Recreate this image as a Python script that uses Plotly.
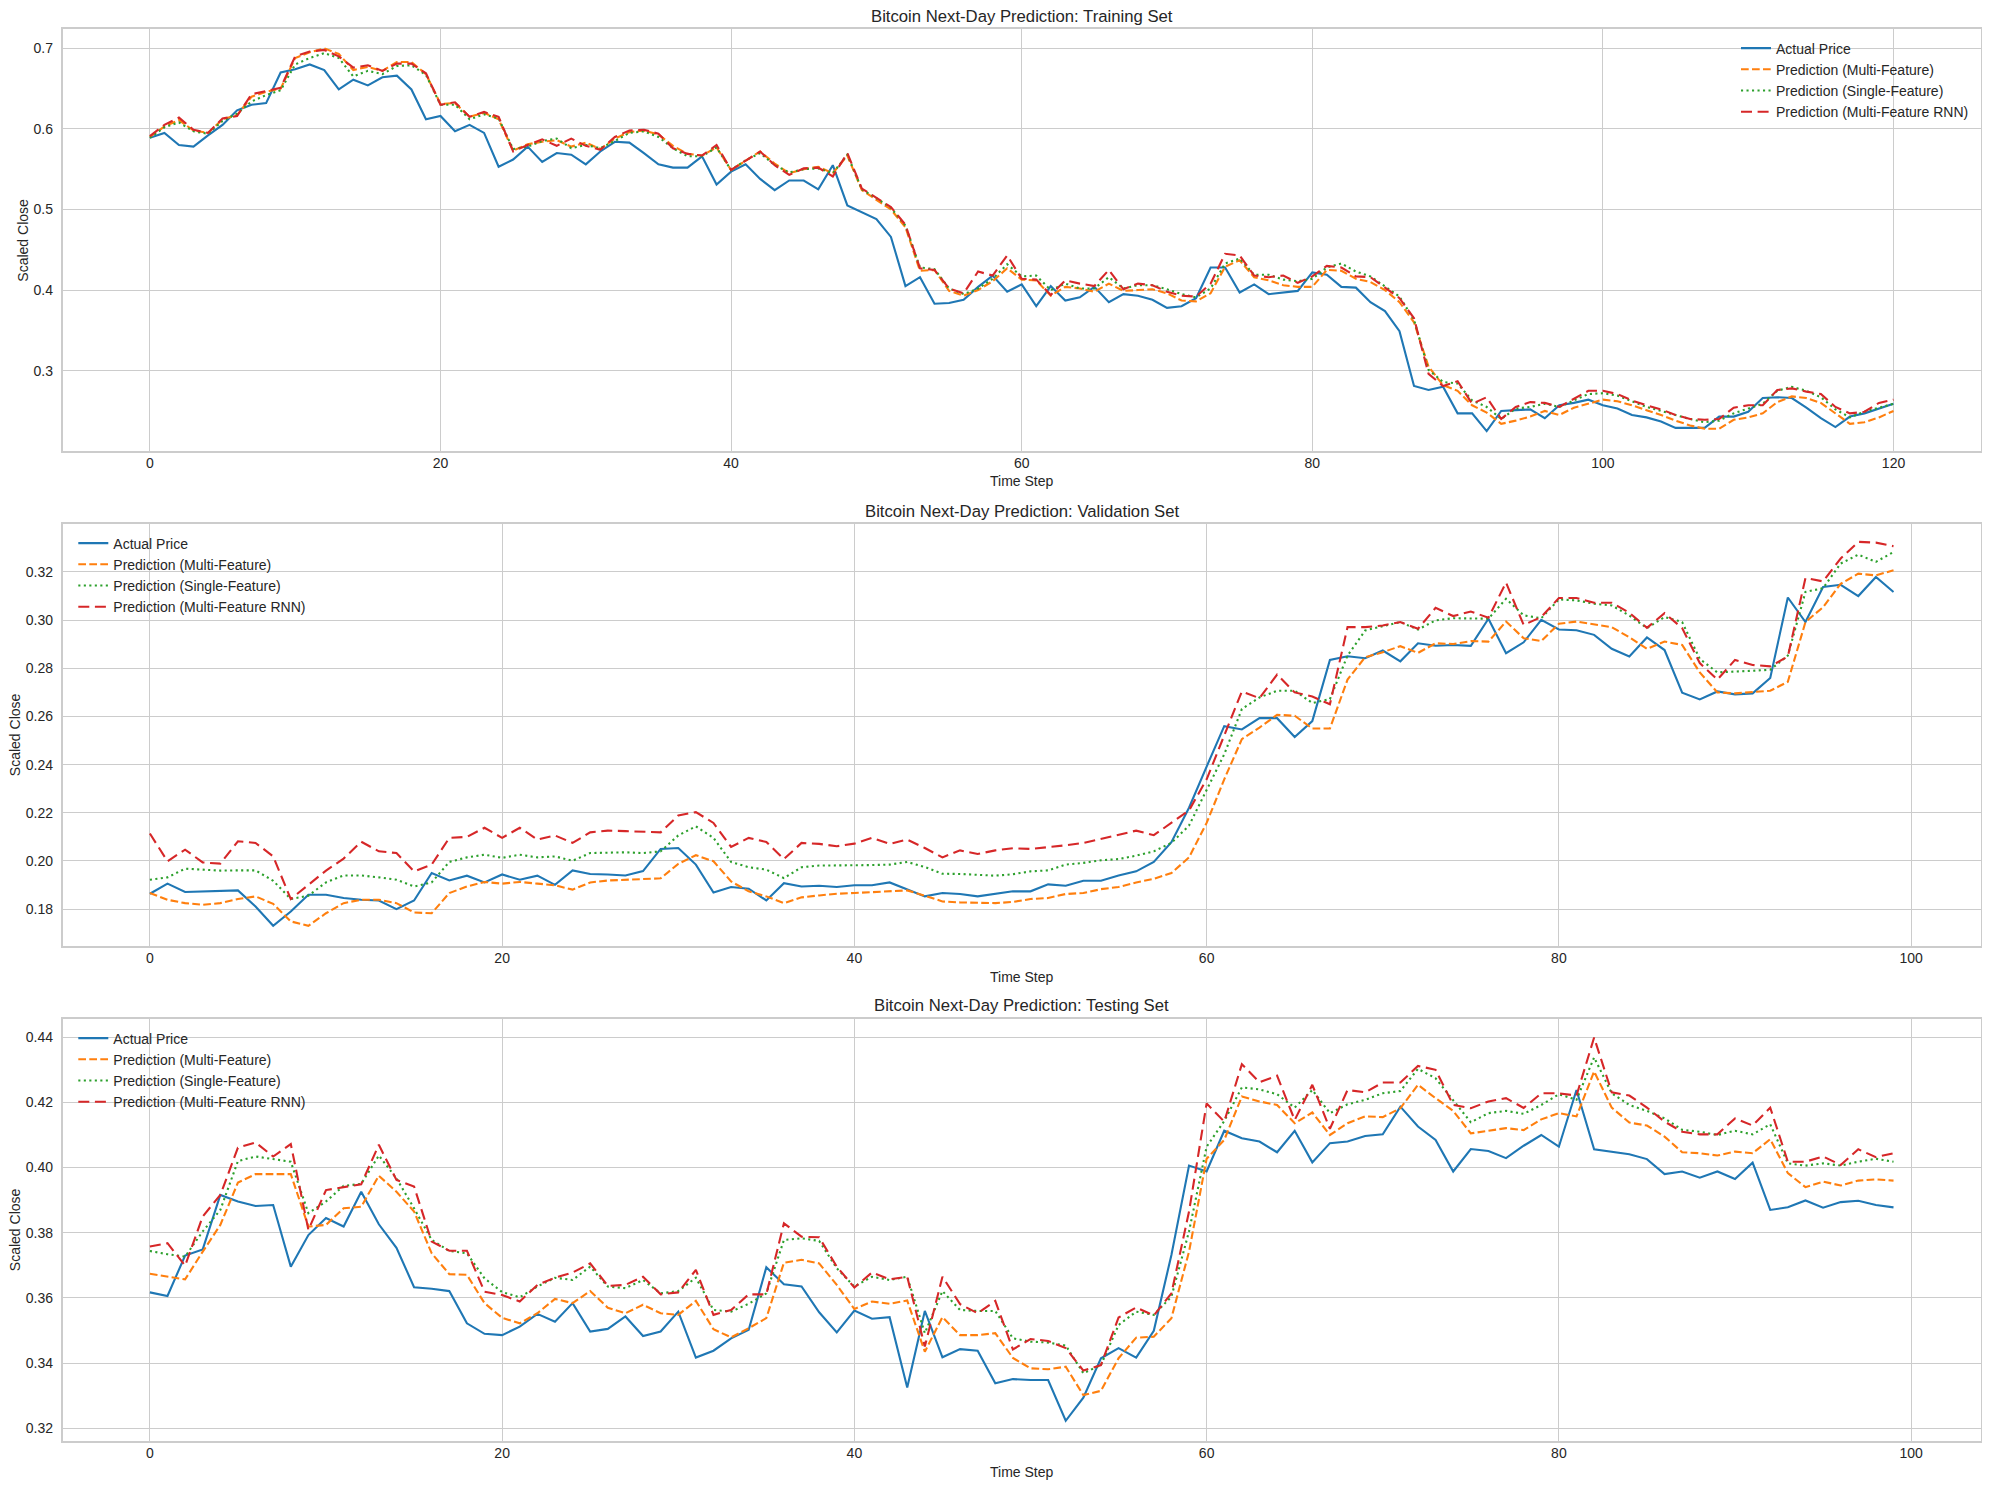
import plotly.graph_objects as go

# ---------------- data ----------------
train_actual = [0.589,0.595,0.580,0.578,0.592,0.605,0.623,0.630,0.632,0.670,0.674,0.680,0.673,0.649,0.661,0.654,0.664,0.666,0.649,0.612,0.616,0.597,0.605,0.595,0.553,0.562,
    0.578,0.559,0.570,0.568,0.556,0.572,0.584,0.583,0.570,0.556,0.552,0.552,0.566,0.531,0.547,0.556,0.538,0.524,0.536,0.536,0.525,0.555,0.505,0.497,0.488,0.466,0.405,0.416,0.383,0.384,0.388,0.404,0.418,
    0.398,0.407,0.380,0.405,0.387,0.391,0.404,0.385,0.395,0.393,0.388,0.378,0.380,0.390,0.428,0.428,0.397,0.407,0.395,0.397,0.399,0.422,0.419,0.404,0.403,0.385,0.374,0.349,0.281,0.276,0.280,0.247,0.247,0.225,0.250,0.251,
    0.252,0.241,0.257,0.260,0.264,0.257,0.253,0.245,0.242,0.237,0.229,0.229,0.229,0.243,0.243,0.249,0.266,0.267,0.266,0.254,0.241,0.230,0.243,0.247,0.253,0.259]
train_multi = [0.590,0.603,0.611,0.598,0.595,0.612,0.617,0.640,0.646,0.650,0.688,0.695,0.700,0.693,0.673,0.677,0.672,0.683,0.683,0.668,0.631,0.632,0.615,0.620,0.612,0.573,
    0.581,0.584,0.586,0.578,0.583,0.575,0.588,0.596,0.598,0.593,0.579,0.569,0.567,0.577,0.549,0.560,0.572,0.557,0.545,0.550,0.553,0.545,0.567,0.524,0.512,0.500,0.478,0.424,0.425,0.399,0.393,0.400,0.411,0.427,
    0.413,0.412,0.393,0.404,0.402,0.398,0.408,0.399,0.400,0.401,0.396,0.387,0.386,0.396,0.429,0.437,0.416,0.412,0.406,0.404,0.404,0.425,0.424,0.414,0.410,0.400,0.385,0.360,0.305,0.282,0.275,0.257,0.248,0.234,0.238,
    0.243,0.250,0.245,0.254,0.259,0.264,0.262,0.257,0.251,0.245,0.238,0.232,0.228,0.228,0.239,0.242,0.247,0.261,0.268,0.266,0.260,0.247,0.234,0.236,0.242,0.250]
train_single = [0.589,0.602,0.608,0.597,0.594,0.610,0.619,0.634,0.642,0.648,0.680,0.688,0.694,0.688,0.665,0.672,0.668,0.678,0.679,0.667,0.630,0.630,0.612,0.618,0.613,0.575,
    0.578,0.585,0.588,0.576,0.580,0.576,0.585,0.595,0.597,0.590,0.576,0.566,0.566,0.577,0.549,0.561,0.570,0.555,0.546,0.550,0.551,0.545,0.568,0.525,0.514,0.502,0.480,0.428,0.426,0.402,0.395,0.402,0.414,0.432,
    0.417,0.418,0.400,0.408,0.402,0.402,0.416,0.402,0.406,0.406,0.401,0.395,0.391,0.402,0.433,0.439,0.419,0.419,0.413,0.411,0.414,0.428,0.433,0.423,0.417,0.404,0.392,0.363,0.301,0.286,0.284,0.263,0.255,0.240,0.253,
    0.255,0.259,0.255,0.263,0.271,0.272,0.269,0.262,0.255,0.250,0.245,0.240,0.236,0.238,0.247,0.253,0.259,0.275,0.280,0.275,0.267,0.252,0.242,0.249,0.254,0.259]
train_rnn = [0.591,0.605,0.614,0.599,0.595,0.613,0.616,0.643,0.647,0.651,0.690,0.696,0.698,0.690,0.676,0.679,0.672,0.681,0.681,0.669,0.630,0.633,0.615,0.621,0.615,0.572,
    0.580,0.587,0.579,0.588,0.579,0.574,0.590,0.598,0.599,0.594,0.576,0.569,0.567,0.580,0.549,0.561,0.572,0.555,0.543,0.551,0.552,0.541,0.570,0.526,0.514,0.503,0.481,0.427,0.425,0.402,0.396,0.423,0.418,0.443,
    0.414,0.413,0.394,0.412,0.408,0.405,0.425,0.401,0.408,0.406,0.398,0.393,0.392,0.408,0.445,0.443,0.418,0.416,0.418,0.409,0.417,0.430,0.428,0.417,0.416,0.403,0.390,0.365,0.296,0.281,0.287,0.259,0.267,0.240,0.255,
    0.261,0.260,0.255,0.265,0.275,0.275,0.271,0.263,0.257,0.252,0.245,0.240,0.239,0.240,0.254,0.257,0.257,0.276,0.278,0.274,0.271,0.255,0.247,0.249,0.260,0.264]

val_actual = [0.1864,0.1906,0.1871,0.1874,0.1876,0.1878,0.1811,0.1731,0.1790,0.1860,0.1860,0.1846,0.1839,0.1836,0.1800,0.1836,0.1950,0.1919,0.1939,0.1911,0.1944,0.1922,
    0.1939,0.1901,0.1961,0.1946,0.1944,0.1940,0.1958,0.2050,0.2054,0.1985,0.1869,0.1892,0.1885,0.1836,0.1908,0.1894,0.1897,0.1892,0.1899,0.1899,0.1911,0.1881,0.1853,0.1867,0.1863,0.1853,0.1864,0.1874,
    0.1874,0.1903,0.1897,0.1918,0.1918,0.1940,0.1957,0.1996,0.2078,0.2221,0.2392,0.2560,0.2546,0.2593,0.2593,0.2515,0.2581,0.2835,0.2850,0.2842,0.2874,0.2829,0.2904,0.2894,0.2897,0.2893,0.3006,0.2863,0.2908,
    0.3001,0.2961,0.2958,0.2939,0.2881,0.2849,0.2928,0.2876,0.2699,0.2671,0.2704,0.2692,0.2696,0.2760,0.3094,0.2992,0.3138,0.3147,0.3100,0.3179,0.3117]
val_multi = [0.1867,0.1839,0.1825,0.1818,0.1825,0.1842,0.1853,0.1822,0.1749,0.1731,0.1783,0.1825,0.1839,0.1839,0.1825,0.1786,0.1783,0.1867,0.1894,0.1913,0.1906,0.1913,
    0.1906,0.1899,0.1881,0.1911,0.1919,0.1922,0.1925,0.1928,0.1988,0.2024,0.1999,0.1915,0.1874,0.1853,0.1825,0.1849,0.1857,0.1864,0.1867,0.1871,0.1874,0.1878,0.1856,0.1832,0.1828,0.1828,0.1825,0.1830,
    0.1842,0.1846,0.1863,0.1867,0.1883,0.1892,0.1911,0.1926,0.1950,0.2015,0.2158,0.2339,0.2506,0.2554,0.2607,0.2603,0.2550,0.2550,0.2753,0.2846,0.2867,0.2892,0.2864,0.2904,0.2901,0.2913,0.2911,0.2994,0.2925,
    0.2913,0.2985,0.2994,0.2981,0.2971,0.2929,0.2881,0.2911,0.2897,0.2783,0.2700,0.2696,0.2703,0.2707,0.2744,0.2992,0.3054,0.3151,0.3193,0.3186,0.3207]
val_single = [0.1922,0.1932,0.1968,0.1964,0.1960,0.1961,0.1961,0.1918,0.1842,0.1856,0.1911,0.1940,0.1940,0.1932,0.1922,0.1894,0.1911,0.1996,0.2015,0.2026,0.2013,0.2026,
    0.2015,0.2019,0.2001,0.2033,0.2036,0.2036,0.2033,0.2040,0.2106,0.2144,0.2096,0.1996,0.1974,0.1964,0.1929,0.1974,0.1981,0.1981,0.1981,0.1983,0.1985,0.1996,0.1975,0.1947,0.1946,0.1943,0.1939,0.1945,
    0.1957,0.1961,0.1985,0.1992,0.2003,0.2008,0.2022,0.2040,0.2075,0.2147,0.2297,0.2443,0.2631,0.2679,0.2707,0.2707,0.2656,0.2672,0.2853,0.2957,0.2975,0.2992,0.2961,0.2999,0.3008,0.3008,0.3006,0.3089,0.3020,
    0.3008,0.3086,0.3082,0.3068,0.3061,0.3019,0.2967,0.3013,0.2992,0.2839,0.2783,0.2788,0.2790,0.2794,0.2853,0.3117,0.3133,0.3235,0.3272,0.3242,0.3283]
val_rnn = [0.2114,0.1999,0.2047,0.1994,0.1989,0.2082,0.2075,0.2019,0.1842,0.1900,0.1960,0.2010,0.2080,0.2040,0.2033,0.1957,0.1985,0.2096,0.2100,0.2138,0.2096,0.2138,
    0.2089,0.2106,0.2075,0.2119,0.2126,0.2124,0.2121,0.2119,0.2189,0.2203,0.2158,0.2058,0.2096,0.2079,0.2008,0.2075,0.2071,0.2061,0.2072,0.2096,0.2071,0.2089,0.2054,0.2015,0.2044,0.2029,0.2044,0.2053,
    0.2050,0.2057,0.2065,0.2075,0.2092,0.2106,0.2126,0.2107,0.2158,0.2210,0.2339,0.2519,0.2704,0.2676,0.2774,0.2700,0.2683,0.2651,0.2971,0.2971,0.2978,0.2992,0.2964,0.3051,0.3017,0.3036,0.3010,0.3156,0.2980,
    0.3013,0.3092,0.3092,0.3072,0.3072,0.3031,0.2968,0.3029,0.2967,0.2822,0.2753,0.2835,0.2814,0.2808,0.2849,0.3175,0.3161,0.3256,0.3325,0.3322,0.3307]

test_actual = [0.3617,0.3606,0.3730,0.3749,0.3916,0.3896,0.3882,0.3885,0.3696,0.3793,0.3845,0.3819,0.3926,0.3826,0.3754,0.3633,0.3628,0.3621,0.3522,0.3490,0.3486,0.3512,
    0.3551,0.3527,0.3584,0.3497,0.3505,0.3543,0.3483,0.3497,0.3558,0.3417,0.3438,0.3476,0.3502,0.3694,0.3642,0.3635,0.3556,0.3494,0.3561,0.3536,0.3541,0.3325,0.3560,0.3418,0.3443,0.3438,0.3338,0.3351,
    0.3348,0.3348,0.3223,0.3294,0.3415,0.3446,0.3417,0.3499,0.3732,0.4006,0.3988,0.4113,0.4090,0.4080,0.4047,0.4113,0.4016,0.4075,0.4080,0.4097,0.4102,0.4187,0.4126,0.4085,0.3988,0.4057,0.4051,0.4029,0.4067,
    0.4100,0.4064,0.4238,0.4056,0.4049,0.4041,0.4026,0.3980,0.3988,0.3969,0.3988,0.3965,0.4015,0.3870,0.3878,0.3899,0.3877,0.3894,0.3898,0.3885,0.3878]
test_multi = [0.3674,0.3665,0.3657,0.3742,0.3824,0.3954,0.3980,0.3980,0.3980,0.3819,0.3824,0.3875,0.3880,0.3975,0.3926,0.3865,0.3737,0.3673,0.3671,0.3584,0.3539,0.3522,
    0.3553,0.3597,0.3584,0.3621,0.3570,0.3553,0.3579,0.3553,0.3548,0.3591,0.3504,0.3479,0.3507,0.3538,0.3708,0.3717,0.3706,0.3640,0.3566,0.3589,0.3582,0.3592,0.3435,0.3541,0.3486,0.3486,0.3492,0.3416,
    0.3384,0.3381,0.3389,0.3302,0.3315,0.3415,0.3478,0.3481,0.3538,0.3742,0.4027,0.4085,0.4218,0.4203,0.4192,0.4136,0.4169,0.4100,0.4136,0.4157,0.4155,0.4182,0.4254,0.4213,0.4174,0.4105,0.4112,0.4121,0.4115,
    0.4148,0.4167,0.4157,0.4295,0.4184,0.4138,0.4129,0.4095,0.4047,0.4044,0.4037,0.4049,0.4044,0.4087,0.3983,0.3940,0.3957,0.3945,0.3960,0.3964,0.3960]
test_single = [0.3744,0.3734,0.3727,0.3804,0.3870,0.4020,0.4034,0.4026,0.4018,0.3860,0.3896,0.3944,0.3950,0.4037,0.3967,0.3875,0.3778,0.3744,0.3737,0.3660,0.3618,0.3602,
    0.3635,0.3662,0.3655,0.3696,0.3635,0.3630,0.3655,0.3614,0.3621,0.3662,0.3563,0.3558,0.3582,0.3614,0.3778,0.3783,0.3775,0.3691,0.3635,0.3665,0.3655,0.3665,0.3492,0.3621,0.3563,0.3560,0.3560,0.3476,
    0.3466,0.3463,0.3454,0.3369,0.3394,0.3517,0.3558,0.3548,0.3604,0.3804,0.4064,0.4143,0.4246,0.4240,0.4225,0.4184,0.4238,0.4167,0.4194,0.4208,0.4228,0.4235,0.4303,0.4274,0.4208,0.4139,0.4167,0.4174,0.4165,
    0.4192,0.4225,0.4208,0.4338,0.4228,0.4192,0.4174,0.4151,0.4116,0.4110,0.4100,0.4113,0.4102,0.4133,0.4013,0.4006,0.4013,0.4006,0.4018,0.4027,0.4018]
test_rnn = [0.3758,0.3768,0.3699,0.3850,0.3916,0.4061,0.4077,0.4034,0.4072,0.3809,0.3931,0.3939,0.3949,0.4070,0.3962,0.3942,0.3773,0.3745,0.3745,0.3619,0.3609,0.3589,
    0.3640,0.3662,0.3678,0.3706,0.3637,0.3640,0.3665,0.3611,0.3617,0.3686,0.3548,0.3563,0.3611,0.3611,0.3829,0.3788,0.3786,0.3696,0.3632,0.3678,0.3657,0.3665,0.3451,0.3665,0.3581,0.3553,0.3591,0.3442,
    0.3474,0.3468,0.3446,0.3377,0.3394,0.3540,0.3571,0.3546,0.3614,0.3865,0.4197,0.4141,0.4317,0.4262,0.4282,0.4146,0.4254,0.4119,0.4238,0.4231,0.4261,0.4261,0.4312,0.4300,0.4192,0.4182,0.4203,0.4213,0.4183,
    0.4228,0.4228,0.4221,0.4399,0.4231,0.4221,0.4184,0.4141,0.4110,0.4102,0.4102,0.4151,0.4129,0.4184,0.4018,0.4018,0.4034,0.4008,0.4056,0.4032,0.4044]

series_names = ["Actual Price", "Prediction (Multi-Feature)", "Prediction (Single-Feature)", "Prediction (Multi-Feature RNN)"]
panel_titles = ["Bitcoin Next-Day Prediction: Training Set",
                "Bitcoin Next-Day Prediction: Validation Set",
                "Bitcoin Next-Day Prediction: Testing Set"]
x_label = "Time Step"
y_label = "Scaled Close"

# ---------------- styling ----------------
PAGE_W, PAGE_H = 1990, 1489
OFF = 8  # default body margin of the page; figure sized so the page does not overflow
W, H = PAGE_W - 2 * OFF, PAGE_H - 2 * OFF
FONT = "Liberation Sans, Arial, Helvetica, sans-serif"
TXT = "#262626"
GRID = "#cccccc"
colors = ["#1f77b4", "#ff7f0e", "#2ca02c", "#d62728"]
dashes = ["solid", "7.7px,3.3px", "2.1px,3.4px", "11px,5.6px"]

# positions below are in page pixels
px_left, px_right = 62.7, 1980.7
panels_px = [(29.3, 451.0), (524.3, 946.0), (1019.3, 1441.0)]
y_ranges = [[0.2003, 0.7236], [0.1647, 0.3398], [0.3161, 0.4455]]
x_ranges = [[-6, 126], [-4.95, 103.95], [-4.95, 103.95]]
y_dtick = [0.1, 0.02, 0.02]
y_fmt = [".1f", ".2f", ".2f"]
legend_pos = [(1736.0, 32.5), (73.3, 527.5), (73.3, 1022.5)]
title_y = [16.0, 511.0, 1006.0]
ylabel_x = [23.5, 15.0, 15.0]

panels = [
    [train_actual, train_multi, train_single, train_rnn],
    [val_actual, val_multi, val_single, val_rnn],
    [test_actual, test_multi, test_single, test_rnn],
]

def fx(px):
    return (px - OFF) / W

def fy(py):
    return 1 - (py - OFF) / H

fig = go.Figure()
annotations = []
layout = dict(
    width=W, height=H,
    margin=dict(l=0, r=0, t=0, b=0),
    paper_bgcolor="white", plot_bgcolor="white",
    font=dict(family=FONT, size=14, color=TXT),
)

for p, series in enumerate(panels):
    sfx = "" if p == 0 else str(p + 1)
    leg = "legend" + sfx
    for k, ys in enumerate(series):
        fig.add_trace(go.Scatter(
            x=list(range(len(ys))), y=ys, mode="lines", name=series_names[k],
            line=dict(color=colors[k], width=2.1, dash=dashes[k]),
            xaxis="x" + sfx, yaxis="y" + sfx, legend=leg,
        ))
    top, bot = panels_px[p]
    layout["xaxis" + sfx] = dict(
        domain=[fx(px_left), fx(px_right)], range=x_ranges[p], anchor="y" + sfx,
        tick0=0, dtick=20, showgrid=True, gridcolor=GRID, gridwidth=1.3,
        showline=True, linecolor=GRID, linewidth=1.7, mirror=True,
        zeroline=False, ticks="", tickfont=dict(size=14, color=TXT, family=FONT),
        ticklabelstandoff=-2, automargin=False,
    )
    layout["yaxis" + sfx] = dict(
        domain=[fy(bot), fy(top)], range=y_ranges[p], anchor="x" + sfx,
        tick0=0, dtick=y_dtick[p], tickformat=y_fmt[p],
        showgrid=True, gridcolor=GRID, gridwidth=1.3,
        showline=True, linecolor=GRID, linewidth=1.7, mirror=True,
        zeroline=False, ticks="", tickfont=dict(size=14, color=TXT, family=FONT),
        ticklabelstandoff=5, automargin=False,
    )
    lx, ly = legend_pos[p]
    layout[leg] = dict(
        x=fx(lx), y=fy(ly), xanchor="left", yanchor="top",
        xref="paper", yref="paper", bgcolor="rgba(0,0,0,0)", borderwidth=0,
        font=dict(family=FONT, size=14, color=TXT), tracegroupgap=0,
    )
    cx = fx((px_left + px_right) / 2)
    annotations.append(dict(text=panel_titles[p], x=cx, y=fy(title_y[p]),
                            xref="paper", yref="paper", xanchor="center", yanchor="middle",
                            showarrow=False, font=dict(family=FONT, size=16.7, color=TXT)))
    annotations.append(dict(text=x_label, x=cx, y=fy(bot + 30.5),
                            xref="paper", yref="paper", xanchor="center", yanchor="middle",
                            showarrow=False, font=dict(family=FONT, size=14, color=TXT)))
    annotations.append(dict(text=y_label, x=fx(ylabel_x[p]), y=fy((top + bot) / 2),
                            xref="paper", yref="paper", xanchor="center", yanchor="middle",
                            textangle=-90, showarrow=False,
                            font=dict(family=FONT, size=14, color=TXT)))

layout["annotations"] = annotations
fig.update_layout(**layout)

fig.write_html("out.html", config={"displayModeBar": False})
